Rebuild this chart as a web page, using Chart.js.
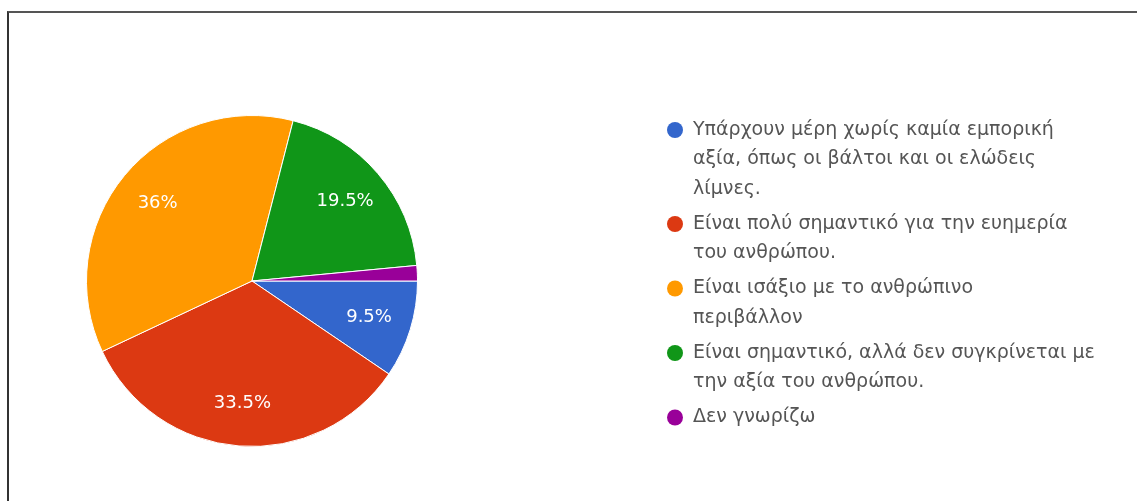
<!DOCTYPE html>
<html lang="el">
<head>
<meta charset="UTF-8">
<title>Pie</title>
<style>
    html, body { margin: 0; padding: 0; background: #fff; }
    body { position: relative; width: 1137px; height: 501px; overflow: hidden; }
    .frame {
        position: absolute; left: 7px; top: 11px; right: 0; bottom: 0;
        border-top: 2px solid #555;
        border-left: 2px solid #333;
    }
    #pie { position: absolute; left: 0; top: 0; }
</style>
</head>
<body>
<div class="frame"></div>
<canvas id="pie" width="1137" height="501"></canvas>

<script src="https://cdn.jsdelivr.net/npm/chart.js@4/dist/chart.umd.min.js"></script>
<script>
    // answers (legend text, already broken into lines) and their share in %
    var answers = [
        ['Υπάρχουν μέρη χωρίς καμία εμπορική', 'αξία, όπως οι βάλτοι και οι ελώδεις', 'λίμνες.'],
        ['Είναι πολύ σημαντικό για την ευημερία', 'του ανθρώπου.'],
        ['Είναι ισάξιο με το ανθρώπινο', 'περιβάλλον'],
        ['Είναι σημαντικό, αλλά δεν συγκρίνεται με', 'την αξία του ανθρώπου.'],
        ['Δεν γνωρίζω']
    ];
    var shares = [9.5, 33.5, 36, 19.5, 1.5];
    var colors = ['#3366cc', '#dc3912', '#ff9900', '#109618', '#990099'];

    var FONT = '"DejaVu Sans", Verdana, sans-serif';

    // percentages written inside the slices (small ones are left blank)
    var sliceLabels = {
        id: 'sliceLabels',
        afterDatasetsDraw: function (chart) {
            var ctx = chart.ctx;
            var meta = chart.getDatasetMeta(0);
            ctx.save();
            ctx.font = '18px ' + FONT;
            ctx.fillStyle = '#fff';
            ctx.textAlign = 'center';
            ctx.textBaseline = 'middle';
            meta.data.forEach(function (arc, i) {
                var v = chart.data.datasets[0].data[i];
                if (v < 5) return;
                var p = arc.getProps(['x', 'y', 'startAngle', 'endAngle', 'outerRadius']);
                var mid = (p.startAngle + p.endAngle) / 2;
                var r = p.outerRadius * 0.74;
                ctx.fillText(v + '%', p.x + Math.cos(mid) * r, p.y + Math.sin(mid) * r);
            });
            ctx.restore();
        }
    };

    // legend on the right, with wrapped lines
    var sideLegend = {
        id: 'sideLegend',
        afterDraw: function (chart) {
            var ctx = chart.ctx;
            var x0 = 675, y = 130, lineH = 29.5, itemGap = 35;
            ctx.save();
            ctx.font = '19px ' + FONT;
            ctx.textBaseline = 'middle';
            ctx.textAlign = 'left';
            chart.data.labels.forEach(function (lines, i) {
                ctx.fillStyle = colors[i];
                ctx.beginPath();
                ctx.arc(x0, y, 8, 0, Math.PI * 2);
                ctx.fill();
                ctx.fillStyle = '#555';
                lines.forEach(function (t, k) {
                    ctx.fillText(t, x0 + 18, y + k * lineH);
                });
                y += (lines.length - 1) * lineH + itemGap;
            });
            ctx.restore();
        }
    };

    new Chart(document.getElementById('pie'), {
        type: 'pie',
        data: {
            labels: answers,
            datasets: [{
                data: shares,
                backgroundColor: colors,
                borderColor: '#fff',
                borderWidth: 1
            }]
        },
        options: {
            responsive: false,
            animation: false,
            rotation: 90,
            layout: { padding: { left: 86, right: 719, top: 115, bottom: 54 } },
            plugins: {
                legend: { display: false },
                tooltip: { enabled: false }
            }
        },
        plugins: [sliceLabels, sideLegend]
    });
</script>
</body>
</html>
